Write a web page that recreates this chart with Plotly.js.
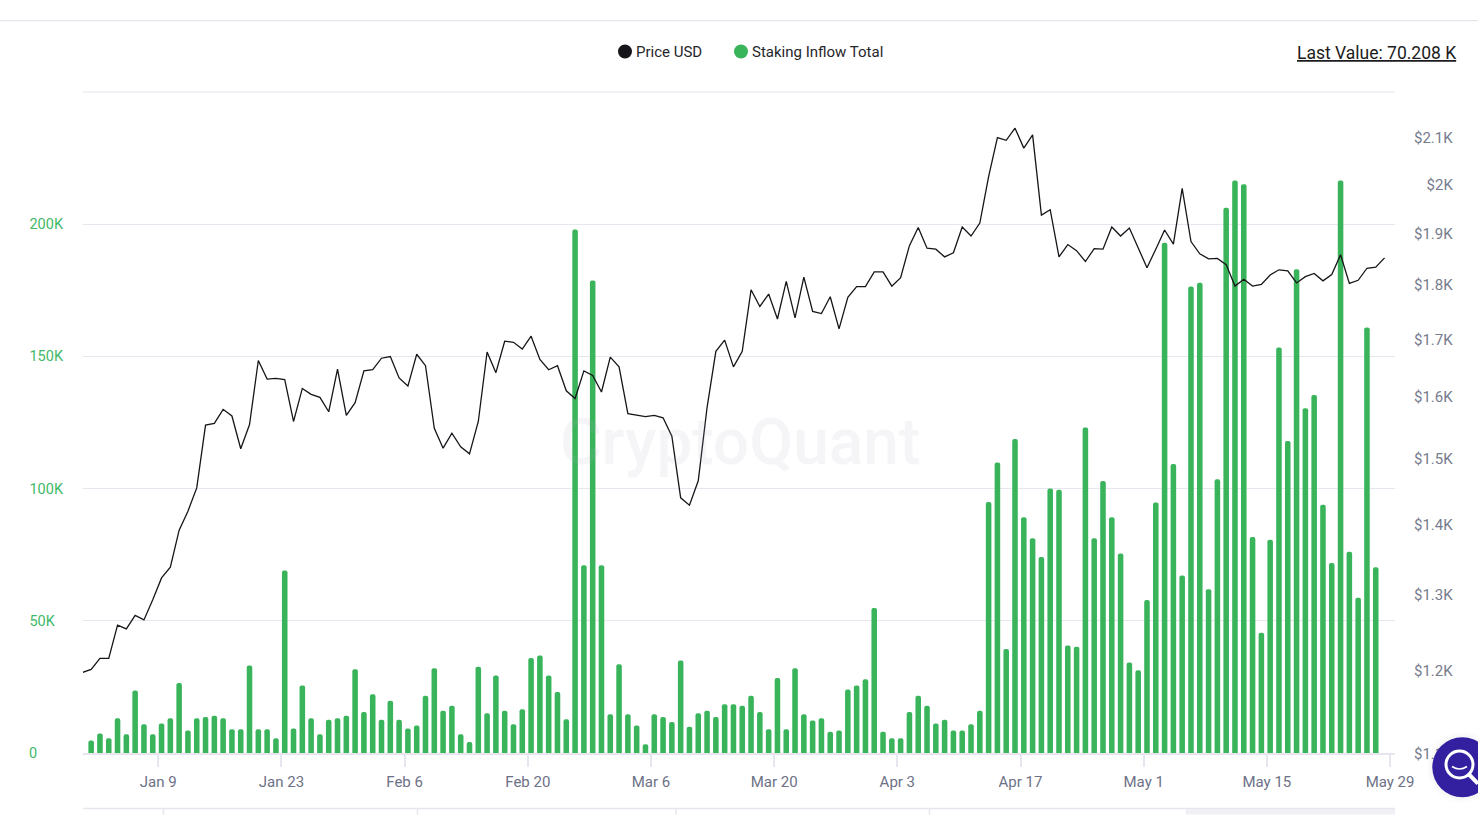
<!DOCTYPE html>
<html>
<head>
<meta charset="utf-8">
<script src="https://cdn.plot.ly/plotly-3.0.1.min.js"></script>
<style>
html,body{margin:0;padding:0;background:#fff;overflow:hidden}
#chart{width:1478px;height:815px}
</style>
</head>
<body>
<div id="chart"></div>
<script>
// Staking Inflow Total, daily, 2023-01-01 onward
const stakingInflow = [
4700,7400,5600,13100,7100,23600,10900,7100,11200,13100,
26500,8500,13100,13600,14100,13100,9000,9000,33100,9000,
9000,5600,69000,9300,25500,13100,7100,12600,13100,14100,
31700,15500,22200,12600,19800,12600,9300,10400,21700,32100,
16000,17900,7100,4200,32600,15000,29300,16000,10900,16500,
35900,36900,29300,23100,12800,198000,71000,178700,71000,14700,
33600,14700,10400,3300,14700,13600,11700,35000,9900,15000,
16000,13600,18400,18400,17900,21700,15500,9000,28400,9000,
32100,14700,12300,13100,8000,8500,24000,25500,27900,54800,
8000,5600,5600,15500,21700,17900,11200,12600,8500,8500,
10900,16000,94900,109900,39300,118800,89200,81200,74100,100000,
99600,40700,40200,123100,81200,102900,89200,75500,34200,31300,
57900,94700,193000,109300,67100,176400,177900,61900,103500,206200,
216500,215100,81700,45500,80700,153400,118000,183000,130400,135400,
93900,71900,216500,76100,58700,160900,70208];

// Price USD, daily, 2022-12-31 onward
const priceUsd = [
1197,1201,1215,1215,1258,1253,1271,1265,1292,1322,
1337,1390,1418,1453,1552,1555,1578,1567,1514,1553,
1661,1629,1630,1628,1558,1613,1603,1598,1574,1646,
1568,1589,1643,1645,1665,1668,1631,1617,1672,1652,
1547,1515,1539,1517,1506,1558,1676,1640,1695,1693,
1681,1704,1663,1645,1652,1609,1596,1643,1635,1607,
1667,1650,1571,1568,1566,1568,1564,1534,1438,1427,
1464,1581,1677,1697,1650,1677,1789,1758,1781,1735,
1805,1737,1813,1749,1745,1776,1717,1775,1795,1795,
1823,1823,1796,1812,1874,1910,1869,1867,1852,1860,
1911,1893,1919,2015,2099,2093,2120,2076,2105,1935,
1946,1852,1876,1864,1843,1868,1867,1911,1893,1909,
1870,1831,1867,1905,1877,1990,1882,1858,1848,1849,
1837,1796,1809,1796,1799,1817,1827,1825,1802,1814,
1820,1806,1818,1856,1801,1807,1830,1832,1850];

const xTickDates = ['2023-01-09','2023-01-23','2023-02-06','2023-02-20','2023-03-06','2023-03-20','2023-04-03','2023-04-17','2023-05-01','2023-05-15','2023-05-29'];
const xTickLabels = ['Jan 9','Jan 23','Feb 6','Feb 20','Mar 6','Mar 20','Apr 3','Apr 17','May 1','May 15','May 29'];
const leftTickVals = [0,50000,100000,150000,200000];
const leftTickLabels = ['0\u2007\u2007\u2007\u200a','50K\u2007','100K','150K','200K'];
const rightTickVals = [1100,1200,1300,1400,1500,1600,1700,1800,1900,2000,2100];
const rightTickLabels = ['$1.1K','$1.2K','$1.3K','$1.4K','$1.5K','$1.6K','$1.7K','$1.8K','$1.9K','\u2007\u2008$2K','$2.1K'];

const dayMs = 86400000;
const dayOf = (startUtc, i) => new Date(startUtc + i * dayMs).toISOString().slice(0, 19).replace('T', ' ');
const inflowDates = stakingInflow.map((_, i) => dayOf(Date.UTC(2023, 0, 1, 9), i));
const priceDates = priceUsd.map((_, i) => dayOf(Date.UTC(2022, 11, 31, 9), i));

const L = 83, R = 1395, T = 92, B = 753.5, W = 1478, H = 815;
const px = v => (v - L) / (R - L);
const py = v => (B - v) / (B - T);
const GRID = '#e6e6ee';
const FONT = 'Roboto, sans-serif';

const hline = (x0, x1, y, color, w) => ({type:'line', xref:'paper', yref:'paper', layer:'below',
  x0:px(x0), x1:px(x1), y0:py(y), y1:py(y), line:{color:color, width:w}});
const vline = (x, y0, y1) => ({type:'line', xref:'paper', yref:'paper', layer:'below',
  x0:px(x), x1:px(x), y0:py(y0), y1:py(y1), line:{color:GRID, width:1.5}});
const circle = (cx, cy, r, fill, lineColor, lw) => ({type:'circle', xref:'paper', yref:'paper', layer:'above',
  x0:px(cx-r), x1:px(cx+r), y0:py(cy+r), y1:py(cy-r), fillcolor:fill,
  line:{color:lineColor||'rgba(0,0,0,0)', width:lw||0}});

const shapes = [
  hline(0, W, 20.5, GRID, 1.2),
  hline(83, 1395, 92, GRID, 1.2),
  hline(83, 1395, 809, GRID, 1.5),
  vline(163.5, 809, 815), vline(417.5, 809, 815), vline(676, 809, 815), vline(929.5, 809, 815), vline(1187, 809, 815),
  {type:'rect', xref:'paper', yref:'paper', layer:'below', x0:px(1187), x1:px(1395), y0:py(815), y1:py(809.5), fillcolor:'#f0f0f5', line:{width:0}},
  circle(625, 51.5, 7, '#16161a'),
  circle(741, 51.5, 7, '#39b45b'),
  circle(1462.3, 767.7, 36, 'rgba(0,0,0,0.012)'),
  circle(1462.3, 767.7, 33, 'rgba(0,0,0,0.018)'),
  circle(1462.3, 767.7, 30, '#3220a0'),
  circle(1459.5, 765, 13.5, 'rgba(0,0,0,0)', '#ffffff', 3),
  {type:'path', xref:'paper', yref:'paper', layer:'above',
   path:`M ${px(1452)} ${py(767)} Q ${px(1459.5)} ${py(772)} ${px(1467)} ${py(767)}`,
   line:{color:'#ffffff', width:1.6}},
  {type:'line', xref:'paper', yref:'paper', layer:'above', x0:px(1469), y0:py(775), x1:px(1478), y1:py(784),
   line:{color:'#ffffff', width:4}}
];

const annotations = [
  {xref:'paper', yref:'paper', x:px(740), y:py(443), text:'CryptoQuant', showarrow:false,
   font:{family:FONT, size:64, weight:500, color:'rgba(170,170,195,0.12)'}},
  {xref:'paper', yref:'paper', x:px(633.5), y:py(52), xanchor:'left', yanchor:'middle', text:'Price USD', showarrow:false,
   font:{family:FONT, size:15, color:'#26262b'}},
  {xref:'paper', yref:'paper', x:px(749.5), y:py(52), xanchor:'left', yanchor:'middle', text:'Staking Inflow Total', showarrow:false,
   font:{family:FONT, size:15, color:'#26262b'}},
  {xref:'paper', yref:'paper', x:px(1295), y:py(53), xanchor:'left', yanchor:'middle', text:'<u>Last Value: 70.208 K</u>', showarrow:false,
   font:{family:FONT, size:17.5, color:'#1c1c20'}}
];

const traces = [
  {type:'bar', name:'Staking Inflow Total', x:inflowDates, y:stakingInflow, yaxis:'y',
   marker:{color:'#39b45b', cornerradius:2, line:{width:0}}},
  {type:'scatter', mode:'lines', name:'Price USD', x:priceDates, y:priceUsd, yaxis:'y2',
   line:{color:'#16161a', width:1.3, shape:'linear'}}
];

const layout = {
  width:W, height:H, showlegend:false,
  margin:{l:L, r:W-R, t:T, b:H-B, pad:0},
  paper_bgcolor:'#ffffff', plot_bgcolor:'rgba(0,0,0,0)',
  font:{family:FONT},
  bargap:0.37,
  xaxis:{type:'date', range:['2022-12-31 10:45','2023-05-29 13:30'],
    tickmode:'array', tickvals:xTickDates, ticktext:xTickLabels,
    ticks:'outside', ticklen:12, tickwidth:1.5, tickcolor:GRID,
    showgrid:false, showline:true, linecolor:GRID, linewidth:1.5, zeroline:false,
    tickfont:{family:FONT, size:15, color:'#6d7186'}, ticklabelstandoff:2},
  yaxis:{range:[0,250000], tickmode:'array', tickvals:leftTickVals, ticktext:leftTickLabels,
    showgrid:true, gridcolor:GRID, gridwidth:1.2, zeroline:false, showline:false, ticks:'',
    tickfont:{family:FONT, size:14.5, color:'#3fb968'}, ticklabelstandoff:19, ticklabelshift:2.5},
  yaxis2:{type:'log', overlaying:'y', side:'right', range:[Math.log10(1100), Math.log10(2202)],
    tickmode:'array', tickvals:rightTickVals, ticktext:rightTickLabels,
    showgrid:false, zeroline:false, showline:false, ticks:'',
    tickfont:{family:FONT, size:15, color:'#777b8e'}, ticklabelstandoff:18, ticklabelshift:1},
  shapes:shapes, annotations:annotations
};

Plotly.newPlot('chart', traces, layout, {displayModeBar:false, responsive:false});
</script>
</body>
</html>
